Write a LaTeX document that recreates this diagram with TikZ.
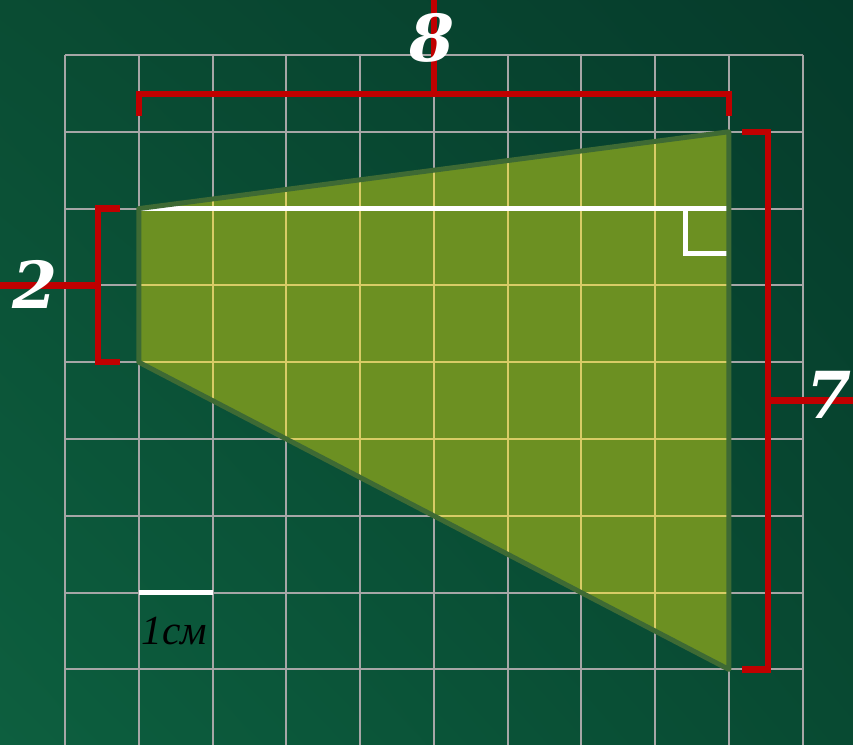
\documentclass[tikz,border=0pt]{standalone}
\usepackage{fontspec}
\setmainfont{Liberation Serif}
\newfontfamily\numfont{DejaVu Serif}
\usepackage{tikz}
\usetikzlibrary{positioning, shadings}
\definecolor{boardtop}{HTML}{0A4C33}
\definecolor{boarddark}{HTML}{053B2B}
\definecolor{boardlight}{HTML}{0D5F3F}
\definecolor{boardmid}{HTML}{084A32}
\definecolor{dimred}{HTML}{C00000}
\definecolor{olive}{HTML}{6C9022}
\definecolor{rimgreen}{HTML}{3E6A34}
\definecolor{palegrid}{HTML}{D8CC66}
\def\dimw{2.4pt}
\tikzstyle{gridline}=[draw=black!35, line width=0.8pt]
\tikzstyle{innergrid}=[draw=palegrid, line width=0.8pt]
\tikzstyle{dimline}=[draw=dimred, line width=\dimw]
\tikzstyle{whiteline}=[draw=white, line width=1.9pt]
\tikzstyle{bignum}=[text=white, font=\numfont\fontsize{25}{27}\selectfont\bfseries\itshape, inner sep=0pt]
\tikzstyle{unitlabel}=[text=black, font=\fontsize{16}{18}\selectfont\itshape, inner sep=0pt]

\begin{document}
\begin{tikzpicture}[x=1cm, y=-1.0414cm]

  \useasboundingbox (-0.882,-0.716) rectangle (10.684,8.984);
  \shade[upper left=boardtop, upper right=boarddark, lower left=boardlight, lower right=boardmid]
    (-0.882,-0.716) rectangle (10.684,8.984);

  % grid
  \foreach \i in {0,...,10}{
    \draw[gridline] (\i,0) -- (\i,8.984);
  }
  \foreach \j in {0,...,8}{
    \draw[gridline] (0,\j) -- (10,\j);
  }

  \coordinate (tl) at (1,2);
  \coordinate (tr) at (9,1);
  \coordinate (br) at (9,8);
  \coordinate (bl) at (1,4);

  \fill[olive] (tl) -- (tr) -- (br) -- (bl) -- cycle;
  \begin{scope}
    \clip (tl) -- (tr) -- (br) -- (bl) -- cycle;
    \foreach \i in {2,...,8}{
      \draw[innergrid] (\i,0) -- (\i,9);
    }
    \foreach \j in {3,...,7}{
      \draw[innergrid] (0,\j) -- (10,\j);
    }
  \end{scope}

  \coordinate (hend) at (tl -| tr);
  \draw[whiteline] (tl) -- (hend);
  \draw[whiteline] (8.41,2) -- (8.41,2.58) -- (9,2.58);

  \draw[draw=rimgreen, line width=1.9pt, line join=round] (tl) -- (tr) -- (br) -- (bl) -- cycle;

  % brackets
  \draw[dimline] (1,0.79) -- (1,0.51) -- (9,0.51) -- (9,0.79);
  \draw[dimline] (5,-0.716) -- (5,0.51);
  \node[bignum] (top) at (4.97,-0.22) {8};

  \draw[dimline] (0.75,2) -- (0.447,2) -- (0.447,4) -- (0.75,4);
  \draw[dimline] (-0.882,3) -- (0.447,3);
  \node[bignum] (left) at (-0.41,2.99) {2};

  \draw[dimline] (9.18,1) -- (9.53,1) -- (9.53,8) -- (9.18,8);
  \draw[dimline] (9.53,4.5) -- (10.684,4.5);
  \node[bignum] (right) at (10.36,4.43) {7};

  % scale
  \coordinate (s1) at (1,7);
  \coordinate (s2) at (2,7);
  \draw[whiteline] (s1) -- (s2);
  \node[unitlabel] (unit) at (1.48,7.5) {1см};

\end{tikzpicture}
\end{document}
